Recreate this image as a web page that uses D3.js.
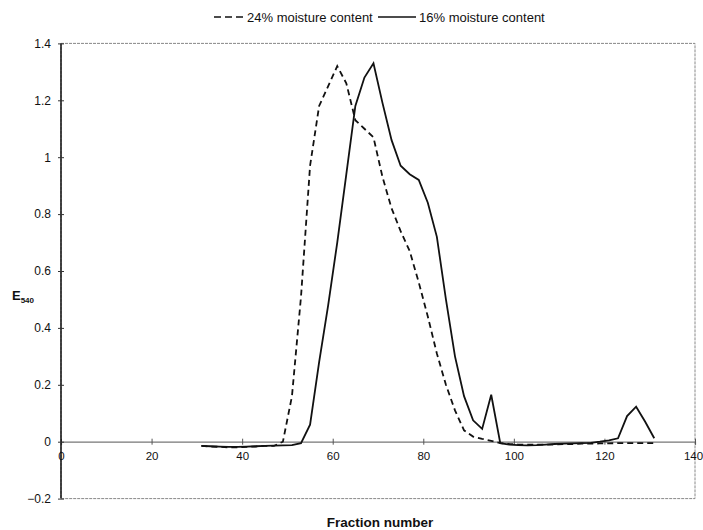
<!DOCTYPE html>
<meta charset="utf-8">
<style>
    body {
        margin: 0;
        background: #fff;
    }

    text {
        font-family: "Liberation Sans", Arial, sans-serif;
        fill: #111;
    }

    .frame {
        fill: none;
        stroke: #888;
        stroke-width: 1;
        stroke-dasharray: 3, 1;
    }

    .line {
        fill: none;
        stroke: #111;
        stroke-width: 1.8px;
    }

    .dashed {
        stroke-dasharray: 6, 4;
    }
</style>
<svg width="703" height="530"></svg>
<script src="https://d3js.org/d3.v7.min.js"></script>
<script>

    // fraction numbers (every second fraction collected)
    var fractions = [31, 33, 35, 37, 39, 41, 43, 45, 47, 49, 51, 53, 55, 57, 59, 61, 63, 65, 67, 69,
        71, 73, 75, 77, 79, 81, 83, 85, 87, 89, 91, 93, 95, 97, 99, 101, 103, 105, 107, 109,
        111, 113, 115, 117, 119, 121, 123, 125, 127, 129, 131];

    // E540 readings, 24% moisture content (dashed)
    var moisture24 = [-0.015, -0.017, -0.018, -0.02, -0.02, -0.018, -0.017, -0.015, -0.015, 0.0, 0.16, 0.51, 0.97, 1.18, 1.25, 1.32, 1.26, 1.13, 1.10, 1.07,
        0.93, 0.82, 0.74, 0.67, 0.56, 0.44, 0.31, 0.2, 0.11, 0.04, 0.018, 0.01, 0.003, -0.005, -0.008, -0.01, -0.01, -0.01, -0.01, -0.01,
        -0.008, -0.008, -0.007, -0.007, -0.006, -0.006, -0.005, -0.005, -0.005, -0.005, -0.005];

    // E540 readings, 16% moisture content (solid)
    var moisture16 = [-0.015, -0.016, -0.017, -0.018, -0.018, -0.017, -0.016, -0.015, -0.014, -0.013, -0.012, -0.005, 0.06, 0.28, 0.48, 0.70, 0.94, 1.18, 1.28, 1.33,
        1.19, 1.06, 0.97, 0.94, 0.92, 0.84, 0.72, 0.5, 0.3, 0.16, 0.075, 0.045, 0.165, -0.005, -0.01, -0.012, -0.013, -0.012, -0.01, -0.008,
        -0.007, -0.006, -0.005, -0.004, 0.0, 0.005, 0.012, 0.09, 0.123, 0.07, 0.012];

    var xTicks = [0, 20, 40, 60, 80, 100, 120, 140];
    var yTicks = [-0.2, 0, 0.2, 0.4, 0.6, 0.8, 1, 1.2, 1.4];

    var svg = d3.select("svg"),
        margin = { top: 43.4, right: 8, bottom: 31.4, left: 61 },
        width = +svg.attr("width"),
        height = +svg.attr("height");

    var x = d3.scaleLinear().domain([0, 140]).range([margin.left, width - margin.right]),
        y = d3.scaleLinear().domain([-0.2, 1.4]).range([height - margin.bottom, margin.top]);

    // dotted plot frame
    svg.append("rect")
        .attr("class", "frame")
        .attr("x", x(0))
        .attr("y", y(1.4))
        .attr("width", x(140) - x(0))
        .attr("height", y(-0.2) - y(1.4));

    // zero line / x axis
    var gx = svg.append("g")
        .attr("transform", "translate(0," + y(0) + ")")
        .call(d3.axisBottom(x).tickValues(xTicks).tickSize(3).tickFormat(d3.format("d")));
    gx.select(".domain").attr("stroke", "#777").attr("stroke-width", 1.2);
    gx.selectAll(".tick line").attr("y1", -3).attr("stroke", "#555");
    gx.selectAll(".tick text")
        .attr("y", 10)
        .attr("dy", "0.71em")
        .style("font-size", "11.5px");
    // last label sits against the right edge
    gx.selectAll(".tick text").filter(function (d) { return d === 140; })
        .attr("x", -2);

    // y axis
    var gy = svg.append("g")
        .attr("transform", "translate(" + x(0) + ",0)")
        .call(d3.axisLeft(y).tickValues(yTicks).tickSize(3).tickFormat(d3.format("")));
    gy.select(".domain").attr("stroke", "#111").attr("stroke-width", 1.5).attr("d", "M0," + y(1.4) + "V" + y(-0.2));
    gy.selectAll(".tick line").attr("x2", 3).attr("x1", -3).attr("stroke", "#333");
    gy.selectAll(".tick text")
        .attr("x", -10)
        .style("font-size", "12px");

    var line = d3.line()
        .x(function (d) { return x(d.f); })
        .y(function (d) { return y(d.v); });

    var series = [
        { id: "24% moisture content", dash: true, values: fractions.map(function (f, i) { return { f: f, v: moisture24[i] }; }) },
        { id: "16% moisture content", dash: false, values: fractions.map(function (f, i) { return { f: f, v: moisture16[i] }; }) }
    ];

    svg.selectAll(".series")
        .data(series)
        .enter().append("path")
        .attr("class", function (d) { return d.dash ? "line dashed" : "line"; })
        .attr("d", function (d) { return line(d.values); });

    // legend
    var legend = svg.append("g").attr("transform", "translate(0,17)");
    legend.append("line").attr("class", "line")
        .attr("x1", 214).attr("x2", 243).attr("y1", 0).attr("y2", 0)
        .style("stroke-dasharray", "7,4").style("stroke-width", 1.5);
    legend.append("text").attr("x", 247).attr("dy", "0.35em")
        .style("font-size", "13px").text(series[0].id);
    legend.append("line").attr("class", "line")
        .attr("x1", 378).attr("x2", 416).attr("y1", 0).attr("y2", 0)
        .style("stroke-width", 1.5);
    legend.append("text").attr("x", 419).attr("dy", "0.35em")
        .style("font-size", "13px").text(series[1].id);

    // axis titles
    var ylab = svg.append("text")
        .attr("x", 12)
        .attr("y", 300)
        .style("font-size", "13px")
        .style("font-weight", "bold");
    ylab.append("tspan").text("E");
    ylab.append("tspan").attr("dy", 3).style("font-size", "8px").text("540");

    svg.append("text")
        .attr("x", 380)
        .attr("y", 527)
        .attr("text-anchor", "middle")
        .style("font-size", "13.5px")
        .style("font-weight", "bold")
        .text("Fraction number");

</script>
